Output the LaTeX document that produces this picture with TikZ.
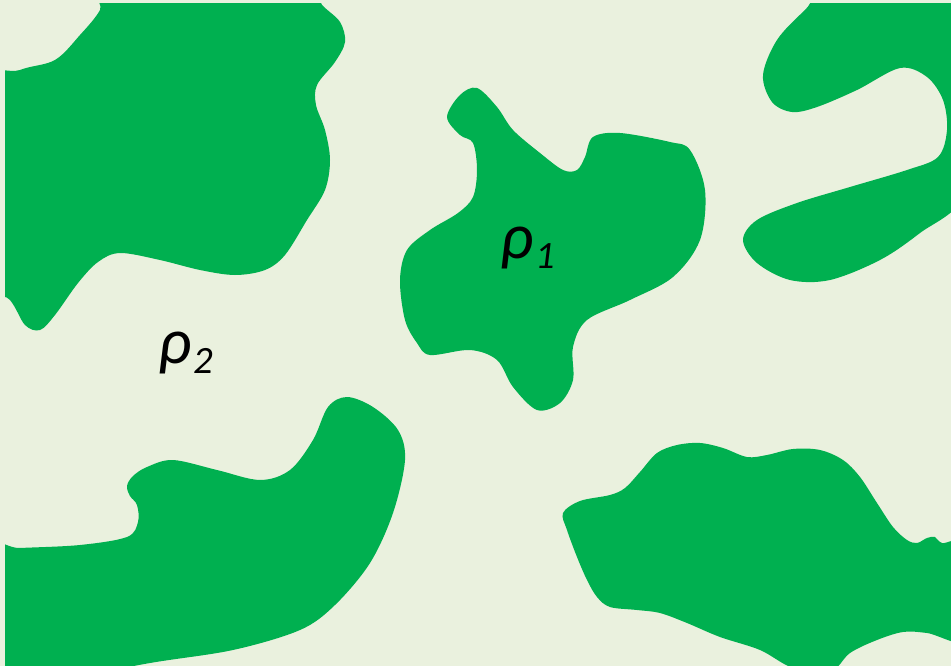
\documentclass[tikz,border=0pt]{standalone}
\usepackage{fontspec}
\setmainfont{Carlito}
\definecolor{bgc}{RGB}{234,241,222}
\definecolor{blobc}{RGB}{0,176,80}
\tikzset{blob/.style={fill=blobc},
  lbl/.style={anchor=base west,inner sep=0pt,text=black}}
\newcommand{\rholabel}[1]{{\fontsize{37}{37}\selectfont\itshape ρ}\kern1pt\raisebox{-6pt}{\fontsize{22}{22}\selectfont\itshape #1}}
\begin{document}
\begin{tikzpicture}[x=0.02cm,y=-0.02cm]
\fill[bgc] (0,0) rectangle (951,666);
\useasboundingbox (0,0) rectangle (951,666);
\begin{scope}
\clip (5,3) rectangle (951,666);
% top-left blob
\fill[blob] plot[smooth cycle,tension=0.55] coordinates {
 (-20,90) (20,70) (55,60) (80,35) (100,10) (110,-20) (300,-20) (322,5) (340,22) (345,42) (335,62)
 (317,85) (316,105) (325,130) (330,160) (325,190) (307,220) (285,255) (265,270) (235,275)
 (200,270) (160,260) (120,253) (98,262) (78,283) (55,315) (40,330) (25,325) (10,300) (-20,270)};
% centre blob
\fill[blob] plot[smooth cycle,tension=0.55] coordinates {
 (477,88) (460,95) (447,117) (460,135) (473,143) (477,170) (473,197) (458,213) (430,230)
 (407,250) (400,280) (405,320) (417,343) (430,355) (470,350) (497,360) (513,387) (537,410)
 (560,403) (573,380) (573,347) (587,320) (630,300) (673,277) (700,240) (705,190) (690,150)
 (670,142) (620,133) (593,137) (585,157) (577,170) (563,170) (540,153) (513,130) (497,107)};
% top-right blob
\fill[blob] plot[smooth cycle,tension=0.55] coordinates {
 (840,-20) (805,10) (777,40) (763,75) (772,102) (792,112) (817,107) (857,90) (900,68)
 (927,77) (943,100) (947,130) (938,157) (907,170) (850,187) (797,203) (757,220) (743,240)
 (757,263) (790,280) (830,280) (880,260) (920,233) (965,195) (985,100) (975,-20)};
% bottom-left blob
\fill[blob] plot[smooth cycle,tension=0.55] coordinates {
 (-20,550) (20,548) (80,545) (127,537) (138,522) (137,505) (130,496) (127,486) (133,476)
 (147,467) (173,460) (217,470) (260,480) (290,470) (313,440) (328,407) (347,397) (373,407)
 (398,430) (405,460) (393,513) (370,563) (335,605) (300,630) (233,650) (150,663) (60,680) (-20,690)};
% bottom-right blob
\fill[blob] plot[smooth cycle,tension=0.55] coordinates {
 (563,513) (580,501) (610,495) (625,488) (640,472) (657,453) (677,445) (700,443) (723,448)
 (747,457) (767,455) (793,449) (820,450) (843,460) (860,477) (877,503) (893,527) (907,540)
 (917,543) (927,538) (935,537) (942,543) (965,548) (975,640) (927,633) (903,632) (877,640)
 (850,653) (830,672) (793,668) (760,650) (720,637) (687,623) (660,613) (637,610) (610,607)
 (597,597) (587,580) (577,557) (567,530)};
\end{scope}
\node[lbl] (rho1) at (500,258) {\rholabel{1}};
\node[lbl] (rho2) at (158,363) {\rholabel{2}};
\end{tikzpicture}
\end{document}
